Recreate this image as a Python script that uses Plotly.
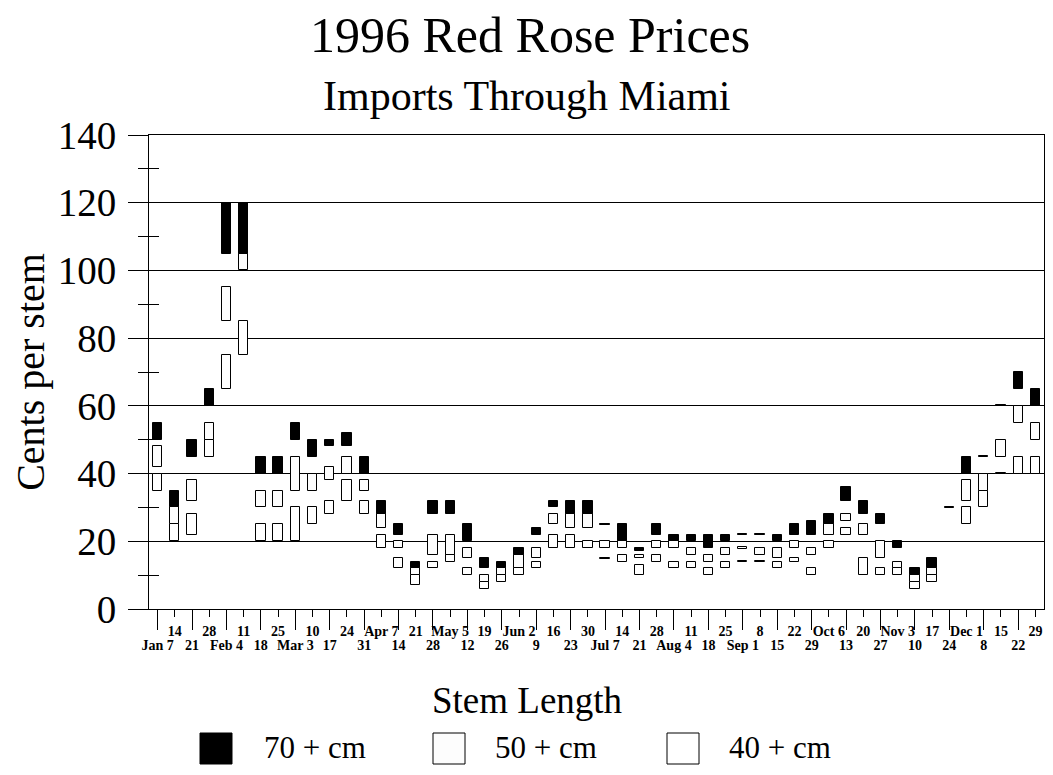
import plotly.graph_objects as go

weeks = ["Jan 7", "14", "21", "28", "Feb 4", "11", "18", "25", "Mar 3", "10", "17", "24", "31",
         "Apr 7", "14", "21", "28", "May 5", "12", "19", "26", "Jun 2", "9", "16", "23", "30",
         "Jul 7", "14", "21", "28", "Aug 4", "11", "18", "25", "Sep 1", "8", "15", "22", "29",
         "Oct 6", "13", "20", "27", "Nov 3", "10", "17", "24", "Dec 1", "8", "15", "22", "29"]

# price ranges, cents per stem (low, high)
low70 = [50, 30, 45, 60, 105, 105, 40, 40, 50, 45, 48, 48, 40, 28, 22, 12, 28, 28, 20, 12, 12, 16, 22, 30, 28, 28,
         25, 20, 17, 22, 20, 20, 18, 20, 22, 22, 20, 22, 22, 25, 32, 28, 25, 18, 10, 12, 30, 40, 45, 60, 65, 60]
high70 = [55, 35, 50, 65, 120, 120, 45, 45, 55, 50, 50, 52, 45, 32, 25, 14, 32, 32, 25, 15, 14, 18, 24, 32, 32, 32,
          25, 25, 18, 25, 22, 22, 22, 22, 22, 22, 22, 25, 26, 28, 36, 32, 28, 20, 12, 15, 30, 45, 45, 60, 70, 65]

low50 = [42, 25, 32, 50, 85, 100, 30, 30, 35, 35, 38, 40, 35, 24, 18, 10, 16, 16, 15, 8, 10, 12, 15, 25, 24, 24,
         18, 18, 15, 18, 18, 16, 14, 16, 18, 16, 15, 18, 16, 22, 26, 22, 15, 12, 8, 10, None, 32, 35, 45, 55, 50]
high50 = [48, 30, 38, 55, 95, 105, 35, 35, 45, 40, 42, 45, 38, 28, 20, 12, 22, 22, 18, 10, 12, 16, 18, 28, 28, 28,
          20, 20, 16, 20, 20, 18, 16, 18, 18, 18, 18, 20, 18, 25, 28, 25, 20, 14, 10, 12, None, 38, 40, 50, 60, 55]

low40 = [35, 20, 22, 45, 65, 75, 20, 20, 20, 25, 28, 32, 28, 18, 12, 7, 12, 14, 10, 6, 8, 10, 12, 18, 18, 18,
         15, 14, 10, 14, 12, 12, 10, 12, 14, 14, 12, 14, 10, 18, 22, 10, 10, 10, 6, 8, None, 25, 30, 40, 40, 40]
high40 = [40, 25, 28, 50, 75, 85, 25, 25, 30, 30, 32, 38, 32, 22, 15, 10, 14, 18, 12, 8, 10, 12, 14, 22, 22, 20,
          15, 16, 13, 16, 14, 14, 12, 14, 14, 14, 14, 15, 12, 20, 24, 15, 12, 12, 8, 10, None, 30, 35, 40, 45, 45]

series = [("40 + cm", low40, high40, "#ffffff"),
          ("50 + cm", low50, high50, "#fdfdfd"),
          ("70 + cm", low70, high70, "#000000")]

SERIF = "Liberation Serif, Times New Roman, serif"
idx = list(range(len(weeks)))

fig = go.Figure()
for name, lo, hi, col in series:
    heights = [None if a is None else max(b - a, 0.35) for a, b in zip(lo, hi)]
    bases = [None if a is None else (a if b > a else a - 0.175) for a, b in zip(lo, hi)]
    fig.add_trace(go.Bar(x=idx, y=heights, base=bases, width=0.54, name=name,
                         marker=dict(color=col, line=dict(color="black", width=1)),
                         showlegend=False))

even = idx[0::2]
odd = idx[1::2]

# the page body adds an 8px offset; the figure is sized to fit the window without scrollbars
fig.update_layout(
    width=1037, height=759,
    margin=dict(l=141, r=1, t=127, b=158),
    plot_bgcolor="white", paper_bgcolor="white",
    barmode="overlay", bargap=0,
    font=dict(family=SERIF, color="black"),
    xaxis=dict(range=[-0.5, 51.5], tickmode="array", tickvals=even, ticktext=[weeks[i] for i in even],
               ticks="outside", ticklen=20, tickcolor="black", tickwidth=1,
               showline=True, linecolor="black", linewidth=1, mirror=True,
               showgrid=False, zeroline=False, ticklabelstandoff=3,
               tickfont=dict(family=SERIF, size=14, weight="bold", color="black")),
    xaxis2=dict(range=[-0.5, 51.5], overlaying="x", anchor="y", side="bottom",
                tickmode="array", tickvals=odd, ticktext=[weeks[i] for i in odd],
                ticks="outside", ticklen=7, tickcolor="black", tickwidth=1,
                showline=False, showgrid=False, zeroline=False, ticklabelstandoff=2,
                tickfont=dict(family=SERIF, size=14, weight="bold", color="black")),
    yaxis=dict(range=[0, 140], tickmode="array", tickvals=list(range(0, 141, 20)),
               ticks="outside", ticklen=20, tickcolor="black", tickwidth=1,
               showline=True, linecolor="black", linewidth=1, mirror=True,
               showgrid=True, gridcolor="black", gridwidth=1, zeroline=False,
               minor=dict(tickmode="array", tickvals=list(range(10, 140, 20)), ticks="outside",
                          ticklen=10, tickcolor="black", showgrid=False),
               tickfont=dict(family=SERIF, size=39, color="black"), ticklabelstandoff=4,
               title=dict(text="Cents per stem", font=dict(family=SERIF, size=40, color="black"), standoff=6)),
    yaxis2=dict(range=[0, 140], overlaying="y", side="left", anchor="x",
                tickmode="array", tickvals=list(range(10, 140, 20)), ticks="inside", ticklen=10,
                tickcolor="black", showticklabels=False, showgrid=False, showline=False, zeroline=False),
)

# dummy trace to activate overlay axes
fig.add_trace(go.Scatter(x=[None], y=[None], xaxis="x2", yaxis="y2", showlegend=False, hoverinfo="skip"))

# helpers: screen pixel (as seen in the window) -> paper coordinates
PL, PR, PT, PB = 149, 1044, 135, 609

def px_x(px):
    return (px - PL) / (PR - PL)

def px_y(py):
    return (PB - py) / (PB - PT)

anns = [
    dict(text="1996 Red Rose Prices", x=px_x(530), y=px_y(35), size=50),
    dict(text="Imports Through Miami", x=px_x(527), y=px_y(96), size=42),
    dict(text="Stem Length", x=px_x(527), y=px_y(700), size=37),
]
for a in anns:
    fig.add_annotation(text=a["text"], x=a["x"], y=a["y"], xref="paper", yref="paper",
                       xanchor="center", yanchor="middle", showarrow=False,
                       font=dict(family=SERIF, size=a["size"], color="black"))

legend_items = [("70 + cm", "#000000", 200, 262), ("50 + cm", "#fdfdfd", 433, 493), ("40 + cm", "#ffffff", 667, 727)]
for label, col, sx, tx in legend_items:
    fig.add_shape(type="rect", xref="paper", yref="paper",
                  x0=px_x(sx), x1=px_x(sx + 32), y0=px_y(764), y1=px_y(733),
                  fillcolor=col, line=dict(color="black", width=1))
    fig.add_annotation(text=label, x=px_x(tx), y=px_y(747), xref="paper", yref="paper",
                       xanchor="left", yanchor="middle", showarrow=False,
                       font=dict(family=SERIF, size=31, color="black"))

fig.write_html("out.html")
